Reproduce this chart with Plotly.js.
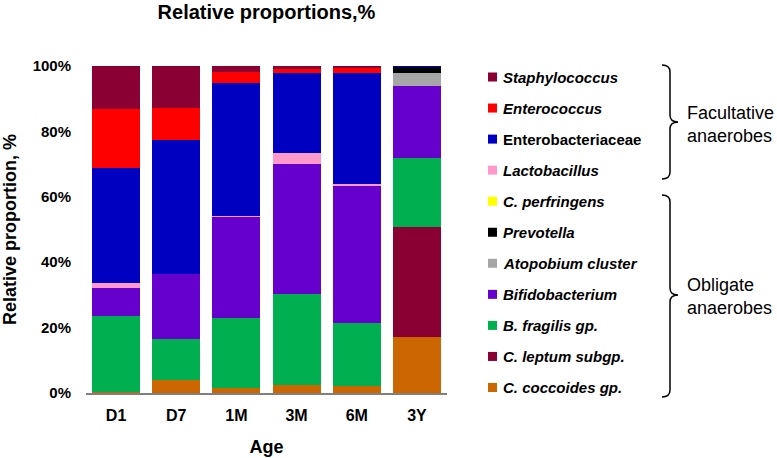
<!DOCTYPE html>
<html>
<head>
<meta charset="utf-8">
<script src="https://cdn.plot.ly/plotly-3.0.1.min.js"></script>
<style>html,body{margin:0;padding:0;background:#fff;}</style>
</head>
<body>
<div id="chart" style="width:777px;height:458px;"></div>
<script>
// Categories (age)
const ages = ["D1", "D7", "1M", "3M", "6M", "3Y"];

// Series values (% of total), bottom of the stack first
const cCoccoides       = [0.4, 4.0, 1.6, 2.4, 2.2, 17.2];
const cLeptum          = [0.0, 0.0, 0.0, 0.0, 0.0, 33.5];
const bFragilis        = [23.2, 12.6, 21.2, 27.9, 19.1, 21.3];
const bifidobacterium  = [8.6, 19.8, 30.9, 39.6, 42.1, 21.9];
const atopobium        = [0.0, 0.0, 0.0, 0.0, 0.0, 4.0];
const prevotella       = [0.0, 0.0, 0.0, 0.0, 0.0, 1.7];
const cPerfringens     = [0.0, 0.0, 0.0, 0.0, 0.0, 0.0];
const lactobacillus    = [1.3, 0.0, 0.3, 3.4, 0.5, 0.0];
const enterobacteria   = [35.3, 41.0, 40.9, 24.5, 33.9, 0.4];
const enterococcus     = [18.0, 9.9, 3.4, 1.3, 1.5, 0.0];
const staphylococcus   = [13.2, 12.7, 1.7, 0.9, 0.7, 0.0];

const seriesNames = ["C. coccoides gp.", "C. leptum subgp.", "B. fragilis gp.", "Bifidobacterium",
  "Atopobium cluster", "Prevotella", "C. perfringens", "Lactobacillus",
  "Enterobacteriaceae", "Enterococcus", "Staphylococcus"];
const seriesValues = [cCoccoides, cLeptum, bFragilis, bifidobacterium, atopobium, prevotella,
  cPerfringens, lactobacillus, enterobacteria, enterococcus, staphylococcus];
const seriesColors = ["#cc6600", "#8b0033", "#00b050", "#6600cc", "#a6a6a6", "#000000",
  "#ffff00", "#ff99cc", "#0000c0", "#ff0000", "#8b0033"];
const seriesItalic = [true, true, true, true, true, true, true, true, false, true, true];

// Group labels
const groupLabels = ["Facultative<br>anaerobes", "Obligate<br>anaerobes"];

const FONT = "Liberation Sans, Arial, sans-serif";

const traces = seriesNames.map((n, i) => ({
  type: "bar",
  name: n,
  x: ages,
  y: seriesValues[i],
  marker: { color: seriesColors[i], line: { width: 0 } },
  showlegend: false,
  hoverinfo: "x+y+name"
}));

// pixel -> paper helpers for decorations
const L = 86, R = 447, T = 66, B = 393;
const px = v => (v - L) / (R - L);
const py = v => (B - v) / (B - T);

function brace(xl, xm, xt, yt, ymid, yb) {
  const r = 7;
  const p = (x, y) => px(x).toFixed(5) + "," + py(y).toFixed(5);
  return "M " + p(xl, yt) + " Q " + p(xm, yt) + " " + p(xm, yt + r) +
    " L " + p(xm, ymid - r) + " Q " + p(xm, ymid) + " " + p(xt, ymid) +
    " Q " + p(xm, ymid) + " " + p(xm, ymid + r) +
    " L " + p(xm, yb - r) + " Q " + p(xm, yb) + " " + p(xl, yb);
}

const shapes = [
  { type: "path", xref: "paper", yref: "paper", path: brace(662, 670, 678, 65, 122, 179),
    line: { color: "#000", width: 1.5 } },
  { type: "path", xref: "paper", yref: "paper", path: brace(662, 670, 678, 195, 295, 397),
    line: { color: "#000", width: 1.5 } }
];
const annotations = [
  { xref: "paper", yref: "paper", x: px(685), y: py(124), xanchor: "left", yanchor: "middle",
    text: groupLabels[0], showarrow: false, align: "left",
    font: { family: FONT, size: 18, color: "#000" } },
  { xref: "paper", yref: "paper", x: px(685), y: py(296), xanchor: "left", yanchor: "middle",
    text: groupLabels[1], showarrow: false, align: "left",
    font: { family: FONT, size: 18, color: "#000" } }
];

// custom legend (top to bottom = reverse stacking order)
const n = seriesNames.length;
for (let k = 0; k < n; k++) {
  const i = n - 1 - k;
  const yc = 77 + k * 31.05;
  shapes.push({ type: "rect", xref: "paper", yref: "paper",
    x0: px(488), x1: px(497), y0: py(yc - 4.5), y1: py(yc + 4.5),
    fillcolor: seriesColors[i], line: { width: 0 } });
  annotations.push({ xref: "paper", yref: "paper", x: px(501), y: py(yc), xanchor: "left", yanchor: "middle",
    text: seriesItalic[i] ? "<i>" + seriesNames[i] + "</i>" : seriesNames[i],
    showarrow: false, align: "left",
    font: { family: FONT, size: 15, weight: "bold", color: "#000" } });
}

const layout = {
  width: 777, height: 458,
  margin: { l: L, r: 777 - R, t: T, b: 458 - B, pad: 0 },
  paper_bgcolor: "#fff", plot_bgcolor: "#fff",
  barmode: "stack",
  bargap: 0.2,
  showlegend: false,
  font: { family: FONT, color: "#000" },
  title: {
    text: "Relative proportions,%",
    font: { family: FONT, size: 20, weight: "bold", color: "#000" },
    x: 0.5, xref: "paper", xanchor: "center",
    y: 1 - 12 / 458, yref: "container", yanchor: "middle"
  },
  xaxis: {
    type: "category",
    showline: true, linecolor: "#808080", linewidth: 1.5,
    ticks: "", showgrid: false, zeroline: false,
    tickfont: { family: FONT, size: 16, weight: "bold", color: "#000" },
    ticklabelstandoff: 7,
    title: { text: "Age", font: { family: FONT, size: 18, weight: "bold", color: "#000" }, standoff: 17 }
  },
  yaxis: {
    range: [0, 100],
    tickvals: [0, 20, 40, 60, 80, 100],
    ticktext: ["0%", "20%", "40%", "60%", "80%", "100%"],
    showline: false, showgrid: false, zeroline: false, ticks: "",
    tickfont: { family: FONT, size: 15, weight: "bold", color: "#000" },
    ticklabelstandoff: 14,
    title: { text: "Relative proportion, %", font: { family: FONT, size: 18, weight: "bold", color: "#000" }, standoff: 12 }
  },
  shapes: shapes,
  annotations: annotations
};

Plotly.newPlot("chart", traces, layout, { displayModeBar: false, staticPlot: true });
</script>
</body>
</html>
